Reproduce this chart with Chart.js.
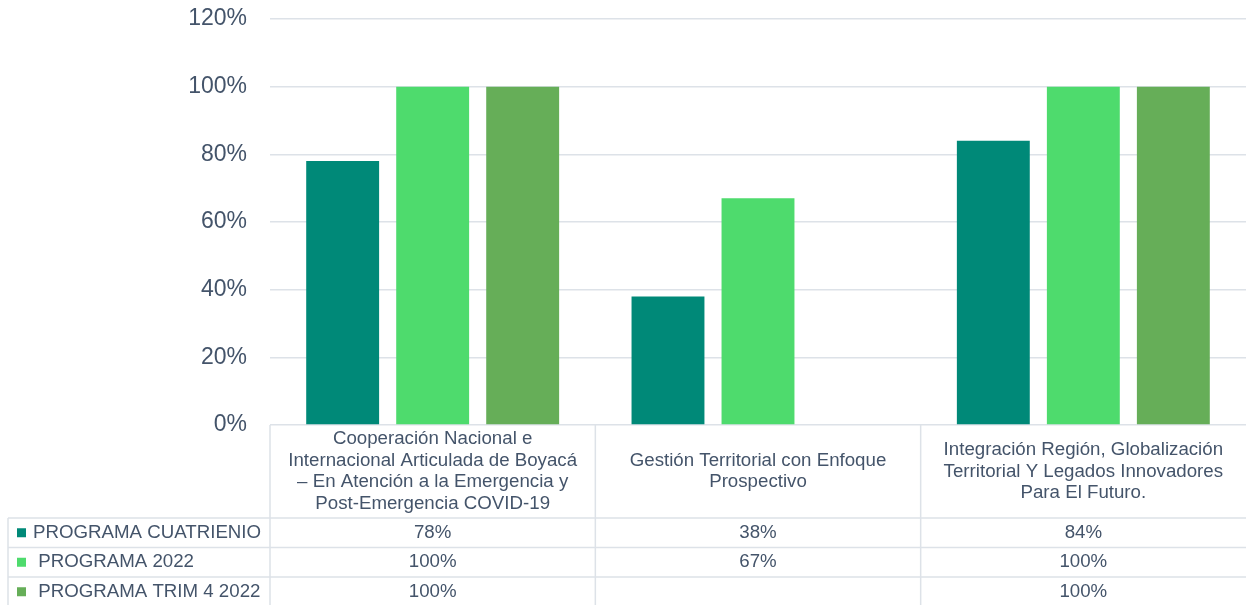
<!DOCTYPE html>
<html>
<head>
<meta charset="utf-8">
<script src="https://cdn.jsdelivr.net/npm/chart.js@4.4.1/dist/chart.umd.min.js"></script>
<style>
html,body{margin:0;padding:0;background:#fff;}
#wrap{width:1246px;height:605px;position:relative;}
</style>
</head>
<body>
<div id="wrap"><canvas id="c" width="1246" height="605"></canvas></div>
<script>
const categories = [
  ["Cooperación Nacional e", "Internacional Articulada de Boyacá", "– En Atención a la Emergencia y", "Post-Emergencia COVID-19"],
  ["Gestión Territorial con Enfoque", "Prospectivo"],
  ["Integración Región, Globalización", "Territorial Y Legados Innovadores", "Para El Futuro."]
];
const seriesNames = ["PROGRAMA CUATRIENIO", " PROGRAMA 2022", " PROGRAMA TRIM 4 2022"];
const cuatrienio = [78, 38, 84];
const programa2022 = [100, 67, 100];
const trim4 = [100, null, 100];
const yTickValues = [0, 20, 40, 60, 80, 100, 120];
const colors = ["#008978", "#4EDB6D", "#66AE58"];

const TEXT = "#44546A";
const LINE = "#dde2e8";
const FONT = "Liberation Sans, Arial, sans-serif";

const tablePlugin = {
  id: "dataTable",
  afterDraw(chart) {
    const ctx = chart.ctx;
    const xs = chart.scales.x;
    const area = chart.chartArea;
    const left = area.left, right = area.right, top = area.bottom;
    const headerBottom = 518;
    const rowH = 29.5;
    const tableLeft = 8;
    const catW = (right - left) / categories.length;
    ctx.save();
    ctx.strokeStyle = LINE;
    ctx.lineWidth = 1.5;
    ctx.beginPath();
    ctx.moveTo(left, top); ctx.lineTo(left, 605);
    for (let i = 1; i < categories.length; i++) {
      const bx = xs.getPixelForValue(i) - catW / 2;
      ctx.moveTo(bx, top); ctx.lineTo(bx, 605);
    }
    ctx.moveTo(tableLeft, headerBottom); ctx.lineTo(tableLeft, 605);
    for (let r = 0; r < 3; r++) {
      const y = headerBottom + r * rowH;
      ctx.moveTo(tableLeft, y); ctx.lineTo(right, y);
    }
    ctx.stroke();

    ctx.fillStyle = TEXT;
    ctx.font = "18.7px " + FONT;
    ctx.textAlign = "center";
    ctx.textBaseline = "middle";
    const lh = 21.7;
    categories.forEach((lines, i) => {
      const cx = xs.getPixelForValue(i);
      const mid = (top + headerBottom) / 2;
      const start = mid - (lines.length - 1) * lh / 2;
      lines.forEach((t, j) => ctx.fillText(t, cx, start + j * lh));
    });
    const dsets = chart.data.datasets;
    dsets.forEach((ds, r) => {
      const cy = headerBottom + r * rowH + rowH / 2;
      ctx.fillStyle = ds.backgroundColor;
      ctx.fillRect(17, cy - 4.5, 9, 9);
      ctx.fillStyle = TEXT;
      ctx.textAlign = "left";
      ctx.fillText(seriesNames[r], 33, cy);
      ctx.textAlign = "center";
      ds.data.forEach((v, i) => {
        if (v === null || v === undefined) return;
        ctx.fillText(v + "%", xs.getPixelForValue(i), cy);
      });
    });
    ctx.restore();
  }
};

new Chart(document.getElementById("c"), {
  type: "bar",
  data: {
    labels: categories.map(l => l.join(" ")),
    datasets: [
      { label: seriesNames[0], data: cuatrienio, backgroundColor: colors[0] },
      { label: seriesNames[1], data: programa2022, backgroundColor: colors[1] },
      { label: seriesNames[2], data: trim4, backgroundColor: colors[2] }
    ]
  },
  options: {
    responsive: false,
    animation: false,
    categoryPercentage: 0.83,
    barPercentage: 0.81,
    layout: { padding: { top: 19, bottom: 180, left: 0, right: 0 } },
    plugins: { legend: { display: false }, tooltip: { enabled: false } },
    scales: {
      x: { display: false },
      y: {
        min: 0, max: 120,
        afterFit(s) { s.width = 270; s.paddingTop = 0; s.paddingBottom = 0; },
        afterBuildTicks(s) { s.ticks = yTickValues.map(v => ({ value: v })); },
        ticks: {
          callback: v => v + "%",
          color: TEXT,
          font: { size: 23, family: FONT },
          padding: 23
        },
        grid: { color: LINE, lineWidth: 1.5, drawTicks: false },
        border: { display: false }
      }
    }
  },
  plugins: [tablePlugin]
});
</script>
</body>
</html>
